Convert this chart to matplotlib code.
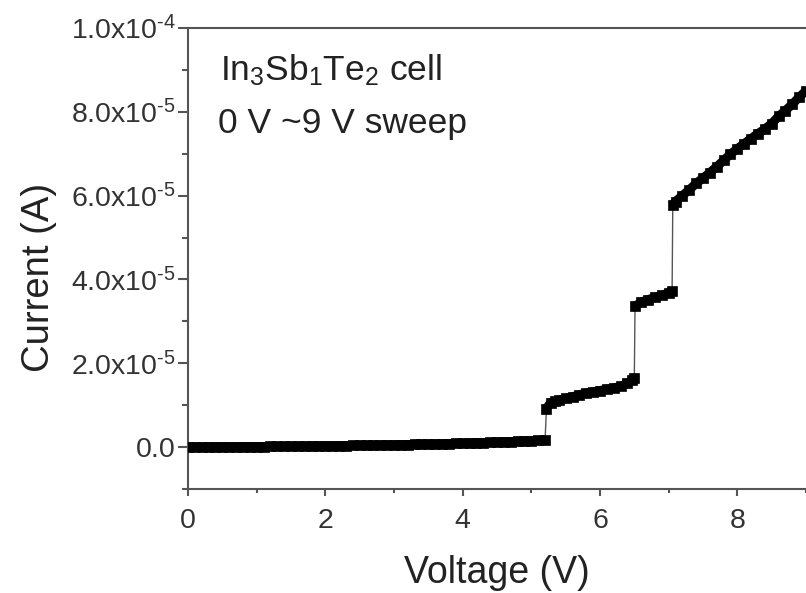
import matplotlib
matplotlib.use("Agg")
import matplotlib.pyplot as plt
from matplotlib.ticker import MultipleLocator, FixedLocator

plt.rcParams['font.family'] = ['Liberation Sans', 'DejaVu Sans']
plt.rcParams['mathtext.fontset'] = 'custom'
plt.rcParams['mathtext.rm'] = 'Liberation Sans'
plt.rcParams['mathtext.it'] = 'Liberation Sans'
plt.rcParams['mathtext.bf'] = 'Liberation Sans:bold'

# ---- data (voltage in V, current in microamps) ----
v_seg1 = [0.0, 0.1, 0.2, 0.3, 0.4, 0.5, 0.6, 0.7, 0.8, 0.9,
          1.0, 1.1, 1.2, 1.3, 1.4, 1.5, 1.6, 1.7, 1.8, 1.9,
          2.0, 2.1, 2.2, 2.3, 2.4, 2.5, 2.6, 2.7, 2.8, 2.9,
          3.0, 3.1, 3.2, 3.3, 3.4, 3.5, 3.6, 3.7, 3.8, 3.9,
          4.0, 4.1, 4.2, 4.3, 4.4, 4.5, 4.6, 4.7, 4.8, 4.9,
          5.0, 5.1, 5.2]
i_seg1 = [0.00, 0.01, 0.02, 0.03, 0.04, 0.05, 0.06, 0.08, 0.09, 0.10,
          0.12, 0.13, 0.15, 0.16, 0.18, 0.20, 0.21, 0.23, 0.25, 0.27,
          0.29, 0.31, 0.33, 0.36, 0.38, 0.41, 0.43, 0.46, 0.49, 0.52,
          0.55, 0.58, 0.61, 0.65, 0.68, 0.72, 0.76, 0.80, 0.84, 0.88,
          0.93, 0.97, 1.02, 1.07, 1.12, 1.18, 1.24, 1.30, 1.36, 1.43,
          1.50, 1.58, 1.66]
v_seg2 = [5.22, 5.28, 5.35, 5.4, 5.5, 5.6, 5.7, 5.8, 5.9, 6.0,
          6.1, 6.2, 6.3, 6.4, 6.47, 6.5]
i_seg2 = [9.2, 10.6, 11.0, 11.2, 11.6, 12.0, 12.5, 12.9, 13.2, 13.5,
          13.8, 14.1, 14.5, 15.2, 16.0, 16.6]
v_seg3 = [6.51, 6.6, 6.7, 6.8, 6.9, 7.0, 7.05]
i_seg3 = [33.6, 34.6, 35.2, 35.7, 36.2, 36.8, 37.2]
v_seg4 = [7.06, 7.1, 7.2, 7.3, 7.4, 7.5, 7.6, 7.7, 7.8, 7.9,
          8.0, 8.1, 8.2, 8.3, 8.4, 8.5, 8.6, 8.7, 8.8, 8.9, 9.0]
i_seg4 = [57.8, 58.6, 60.0, 61.4, 62.9, 64.2, 65.5, 66.9, 68.4, 69.9,
          71.2, 72.4, 73.6, 74.8, 75.9, 77.2, 78.9, 80.3, 81.8, 83.5, 85.0]

segments = [(v_seg1, i_seg1), (v_seg2, i_seg2), (v_seg3, i_seg3), (v_seg4, i_seg4)]
voltage = v_seg1 + v_seg2 + v_seg3 + v_seg4
current = [c * 1e-6 for c in (i_seg1 + i_seg2 + i_seg3 + i_seg4)]

x_ticks = [0, 2, 4, 6, 8]
y_ticks = [0.0, 2e-5, 4e-5, 6e-5, 8e-5, 1e-4]
y_tick_labels = ['0.0', '2.0x10$^{\u20105}$', '4.0x10$^{\u20105}$', '6.0x10$^{\u20105}$',
                 '8.0x10$^{\u20105}$', '1.0x10$^{\u20104}$']

fig = plt.figure(figsize=(8.06, 5.93), dpi=100)
ax = fig.add_axes([188 / 806, 1 - 489 / 593, (806 - 188) / 806, (489 - 28) / 593])

# thin connecting line (visible at the jumps)
ax.plot(voltage, current, color='#555555', lw=1.0, zorder=2)
# thick band of square symbols for each continuous branch
for vs, cs in segments:
    ax.plot(vs, [c * 1e-6 for c in cs], color='black', lw=6.5,
            solid_capstyle='butt', marker='s', markersize=7,
            markerfacecolor='black', markeredgecolor='black',
            markeredgewidth=0.5, zorder=3)

ax.set_xlim(0, 9)
ax.set_ylim(-1e-5, 1e-4)
ax.xaxis.set_major_locator(FixedLocator(x_ticks))
ax.xaxis.set_minor_locator(MultipleLocator(1))
ax.yaxis.set_major_locator(FixedLocator(y_ticks))
ax.yaxis.set_minor_locator(MultipleLocator(1e-5))
ax.set_xticklabels([str(t) for t in x_ticks])
ax.set_yticklabels(y_tick_labels)

spine_color = '#555555'
for s in ['left', 'bottom', 'top']:
    ax.spines[s].set_color(spine_color)
    ax.spines[s].set_linewidth(1.5)
ax.spines['right'].set_visible(False)

ax.tick_params(axis='both', which='both', direction='out', color=spine_color,
               labelcolor='#333333', width=1.5, top=False, right=False)
ax.tick_params(axis='y', which='major', length=7, pad=2, labelsize=20.5)
ax.tick_params(axis='y', which='minor', length=4)
ax.tick_params(axis='x', which='major', length=5, pad=9, labelsize=20.5)
ax.tick_params(axis='x', which='minor', length=3)

ax.set_xlabel('Voltage (V)', fontsize=27, color='#222222')
ax.set_ylabel('Current (A)', fontsize=27.5, color='#222222')
ax.yaxis.set_label_coords((57 - 188) / 618, 1 - (277 - 28) / 461)
ax.xaxis.set_label_coords(0.5, -(583 - 489) / 461)
ax.xaxis.label.set_va('baseline')

ax.text((220 - 188) / 618, 1 - (80 - 28) / 461, r'In$_3$Sb$_1$Te$_2$ cell',
        transform=ax.transAxes, fontsize=25.5, color='#222222', va='baseline')
ax.text((218 - 188) / 618, 1 - (133 - 28) / 461, '0 V ~9 V sweep',
        transform=ax.transAxes, fontsize=25.5, color='#222222', va='baseline')

fig.savefig('out.png', dpi=100)
